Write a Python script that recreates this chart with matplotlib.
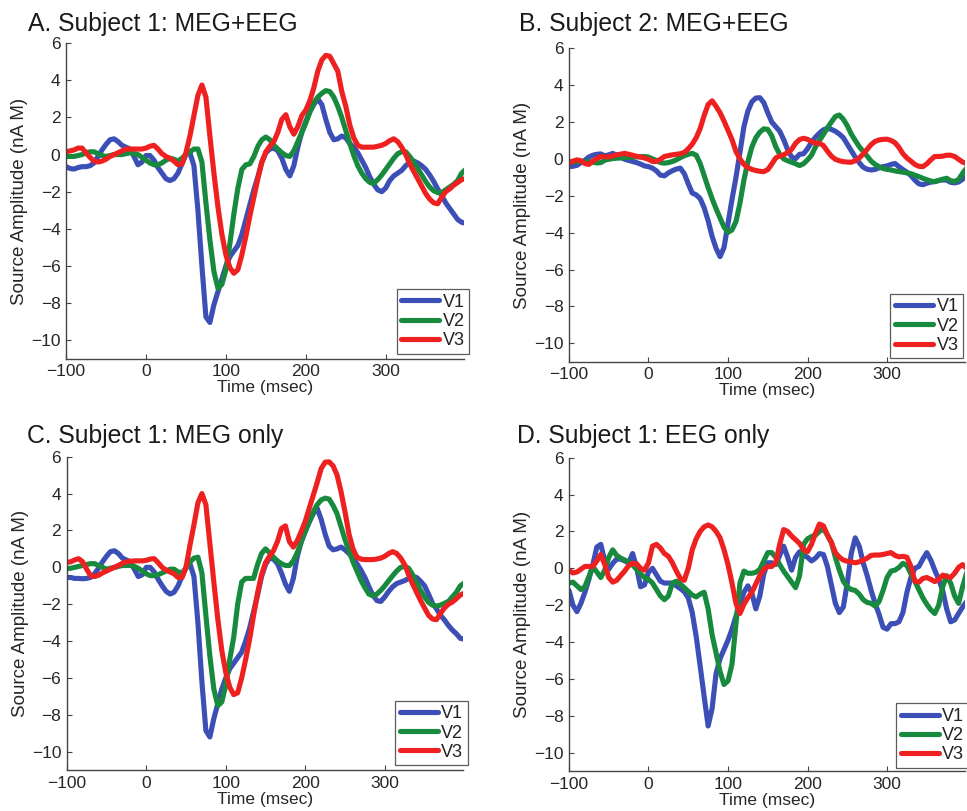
import numpy as np
import matplotlib
matplotlib.use("Agg")
import matplotlib.pyplot as plt

# ---------------- data (nA M), sampled every 5 ms from -100 to 400 ms ----------------
time_ms = np.arange(-100, 401, 5)
series_names = ["V1", "V2", "V3"]
titles = ["A. Subject 1: MEG+EEG", "B. Subject 2: MEG+EEG",
          "C. Subject 1: MEG only", "D. Subject 1: EEG only"]
x_ticks = [-100, 0, 100, 200, 300]
y_ticks = [-10, -8, -6, -4, -2, 0, 2, 4, 6]

a_v1 = [-0.65, -0.75, -0.78, -0.7, -0.65, -0.65, -0.6, -0.45, -0.1, 0.25,
        0.55, 0.8, 0.85, 0.7, 0.5, 0.4, 0.3, -0.1, -0.55, -0.4,
        -0.05, -0.05, -0.3, -0.7, -1.0, -1.3, -1.4, -1.3, -1.0, -0.5,
        0.0, 0.1, -0.6, -3.0, -6.0, -8.75, -9.05, -8.1, -7.4, -6.7,
        -6.0, -5.5, -5.2, -4.9, -4.3, -3.5, -2.7, -1.9, -1.2, -0.4,
        0.1, 0.3, 0.35, 0.2, -0.2, -0.8, -1.15, -0.6, 0.4, 1.2,
        1.8, 2.3, 2.7, 3.0, 2.7, 1.9, 1.2, 0.8, 0.85, 1.0,
        0.9, 0.6, 0.4, 0.1, -0.3, -0.7, -1.2, -1.6, -1.9, -2.0,
        -1.8, -1.4, -1.15, -1.0, -0.85, -0.6, -0.4, -0.35, -0.45, -0.6,
        -0.8, -1.1, -1.45, -1.85, -2.2, -2.6, -2.9, -3.2, -3.5, -3.65,
        -3.7]
a_v2 = [-0.1, -0.1, -0.1, -0.05, 0.0, 0.1, 0.15, 0.15, 0.05, -0.05,
        -0.1, -0.05, 0.0, 0.0, 0.0, 0.05, 0.1, 0.05, 0.0, -0.15,
        -0.3, -0.45, -0.55, -0.55, -0.45, -0.3, -0.2, -0.25, -0.35, -0.2,
        0.0, 0.15, 0.3, 0.3, -0.4, -2.6, -4.6, -6.3, -7.2, -7.0,
        -6.2, -4.8, -3.2, -1.8, -0.8, -0.55, -0.5, -0.1, 0.45, 0.8,
        0.95, 0.8, 0.5, 0.3, 0.1, -0.05, -0.1, 0.2, 0.7, 1.2,
        1.7, 2.3, 2.8, 3.1, 3.3, 3.45, 3.4, 3.1, 2.6, 2.0,
        1.3, 0.6, -0.05, -0.6, -1.0, -1.3, -1.5, -1.55, -1.35, -1.1,
        -0.8, -0.5, -0.2, 0.05, 0.15, 0.15, -0.1, -0.4, -0.75, -1.1,
        -1.45, -1.75, -1.95, -2.05, -2.05, -1.9, -1.75, -1.6, -1.4, -1.0,
        -0.8]
a_v3 = [0.15, 0.2, 0.25, 0.35, 0.35, 0.1, -0.15, -0.35, -0.4, -0.35,
        -0.25, -0.1, 0.0, 0.1, 0.2, 0.3, 0.3, 0.3, 0.3, 0.3,
        0.35, 0.45, 0.5, 0.3, 0.05, -0.1, -0.2, -0.35, -0.55, -0.5,
        0.1, 1.0, 2.1, 3.2, 3.75, 3.1, 1.0, -1.0, -2.8, -4.3,
        -5.4, -6.1, -6.4, -6.2, -5.4, -4.4, -3.3, -2.3, -1.3, -0.4,
        0.15, 0.45, 0.7, 1.2, 1.9, 2.15, 1.5, 1.1, 1.5, 2.1,
        2.4, 2.9, 3.6, 4.5, 5.1, 5.35, 5.3, 4.9, 4.5, 3.4,
        2.6, 1.6, 0.9, 0.5, 0.4, 0.4, 0.4, 0.4, 0.45, 0.5,
        0.6, 0.75, 0.85, 0.7, 0.4, 0.0, -0.5, -0.9, -1.3, -1.7,
        -2.1, -2.4, -2.6, -2.65, -2.3, -2.0, -1.85, -1.65, -1.5, -1.35,
        -1.3]

b_v1 = [-0.42, -0.4, -0.35, -0.2, -0.07, 0.1, 0.2, 0.25, 0.27, 0.17,
        0.22, 0.3, 0.2, 0.1, -0.02, -0.08, -0.14, -0.2, -0.28, -0.38,
        -0.42, -0.5, -0.65, -0.88, -0.92, -0.76, -0.64, -0.55, -0.5, -0.8,
        -1.35, -1.85, -1.95, -2.15, -2.65, -3.35, -4.2, -4.85, -5.3, -4.8,
        -3.5, -2.2, -1.0, 0.35, 1.75, 2.6, 3.1, 3.3, 3.32, 3.05,
        2.5, 2.0, 1.75, 1.5, 1.05, 0.5, 0.1, 0.02, 0.25, 0.28,
        0.55, 0.9, 1.18, 1.4, 1.58, 1.65, 1.6, 1.5, 1.35, 1.15,
        0.8, 0.45, 0.1, -0.2, -0.45, -0.56, -0.6, -0.57, -0.48, -0.42,
        -0.38, -0.3, -0.25, -0.42, -0.58, -0.72, -0.9, -1.15, -1.35, -1.4,
        -1.32, -1.26, -1.23, -1.17, -1.14, -1.15, -1.27, -1.3, -1.25, -1.1,
        -0.95]
b_v2 = [-0.15, -0.15, -0.15, -0.15, -0.15, -0.15, -0.18, -0.22, -0.2, -0.07,
        -0.02, 0.02, 0.04, 0.05, 0.07, 0.09, 0.1, 0.11, 0.12, 0.13,
        0.1, 0.0, -0.08, -0.2, -0.23, -0.2, -0.14, -0.05, 0.07, 0.17,
        0.25, 0.3, 0.2, -0.25, -0.9, -1.55, -2.15, -2.7, -3.2, -3.7,
        -3.98, -3.85, -3.4, -2.4, -1.15, -0.15, 0.65, 1.15, 1.45, 1.63,
        1.6, 1.25, 0.67, 0.25, 0.0, -0.1, -0.18, -0.26, -0.36, -0.26,
        -0.05, 0.2, 0.65, 1.0, 1.33, 1.68, 2.0, 2.3, 2.38, 2.15,
        1.8, 1.35, 1.0, 0.67, 0.4, 0.15, -0.12, -0.3, -0.42, -0.52,
        -0.57, -0.6, -0.65, -0.69, -0.72, -0.76, -0.8, -0.88, -0.96, -1.05,
        -1.13, -1.2, -1.23, -1.17, -1.1, -1.05, -1.18, -1.22, -1.12, -0.78,
        -0.5]
b_v3 = [-0.23, -0.12, -0.05, -0.1, -0.25, -0.3, -0.12, 0.02, 0.13, 0.12,
        0.11, 0.16, 0.22, 0.26, 0.3, 0.25, 0.2, 0.14, 0.1, 0.05,
        -0.02, -0.14, -0.14, -0.02, 0.13, 0.18, 0.22, 0.25, 0.28, 0.35,
        0.55, 0.8, 1.15, 1.65, 2.35, 2.95, 3.15, 2.85, 2.5, 2.05,
        1.55, 1.05, 0.4, 0.0, -0.3, -0.47, -0.57, -0.63, -0.67, -0.69,
        -0.58, -0.28, 0.05, 0.17, 0.22, 0.35, 0.52, 0.85, 1.05, 1.12,
        1.06, 0.95, 0.85, 0.85, 0.72, 0.42, 0.15, -0.02, -0.1, -0.15,
        -0.17, -0.18, -0.1, 0.05, 0.27, 0.52, 0.78, 0.95, 1.03, 1.06,
        1.07, 1.0, 0.88, 0.62, 0.28, 0.05, -0.12, -0.3, -0.4, -0.42,
        -0.27, -0.05, 0.13, 0.13, 0.15, 0.2, 0.2, 0.13, -0.02, -0.17,
        -0.25]

c_v1 = [-0.55, -0.55, -0.6, -0.6, -0.62, -0.6, -0.55, -0.35, -0.05, 0.3,
        0.6, 0.85, 0.9, 0.75, 0.5, 0.4, 0.3, -0.1, -0.5, -0.4,
        0.0, 0.0, -0.25, -0.65, -1.0, -1.3, -1.45, -1.35, -1.0, -0.5,
        0.0, 0.2, -0.5, -3.0, -6.2, -8.85, -9.2, -8.2, -7.4, -6.6,
        -6.0, -5.5, -5.2, -4.9, -4.6, -4.0, -3.3, -2.4, -1.5, -0.5,
        0.15, 0.5, 0.45, 0.2, -0.3, -0.9, -1.3, -0.6, 0.6, 1.4,
        1.95, 2.45, 2.9, 3.2, 2.6, 1.8, 1.15, 0.95, 1.0, 1.1,
        0.95, 0.75, 0.5, 0.2, -0.15, -0.55, -1.05, -1.5, -1.8, -1.85,
        -1.6, -1.3, -1.05, -0.88, -0.8, -0.72, -0.6, -0.5, -0.55, -0.75,
        -1.0, -1.45, -1.95, -2.25, -2.6, -2.85, -3.15, -3.4, -3.6, -3.85,
        -3.9]
c_v2 = [-0.07, -0.05, 0.0, 0.05, 0.1, 0.15, 0.2, 0.2, 0.1, 0.0,
        -0.1, -0.05, 0.0, 0.05, 0.1, 0.1, 0.1, 0.05, -0.05, -0.2,
        -0.35, -0.45, -0.45, -0.4, -0.3, -0.2, -0.1, -0.1, -0.25, -0.3,
        -0.05, 0.3, 0.5, 0.55, -0.3, -2.6, -4.8, -6.6, -7.5, -7.3,
        -6.4, -5.0, -3.8, -2.0, -0.8, -0.6, -0.6, -0.6, 0.15, 0.75,
        1.0, 0.8, 0.55, 0.35, 0.2, 0.1, 0.1, 0.35, 0.8, 1.4,
        1.95, 2.5, 3.0, 3.4, 3.65, 3.75, 3.7, 3.35, 2.9, 2.2,
        1.5, 0.9, 0.3, -0.2, -0.7, -1.1, -1.45, -1.55, -1.45, -1.25,
        -1.0, -0.72, -0.45, -0.2, 0.0, 0.05, -0.05, -0.4, -0.85, -1.25,
        -1.6, -1.9, -2.05, -2.1, -2.05, -1.95, -1.85, -1.6, -1.35, -1.0,
        -0.85]
c_v3 = [0.27, 0.3, 0.4, 0.47, 0.3, -0.1, -0.45, -0.5, -0.43, -0.3,
        -0.2, -0.1, 0.0, 0.1, 0.22, 0.3, 0.33, 0.35, 0.35, 0.35,
        0.38, 0.45, 0.47, 0.25, 0.0, -0.15, -0.25, -0.35, -0.55, -0.55,
        0.0, 1.2, 2.3, 3.5, 4.0, 3.4, 1.3, -0.8, -2.8, -4.5,
        -5.7, -6.5, -6.9, -6.8, -6.0, -5.0, -3.9, -2.6, -1.4, -0.4,
        0.25, 0.6, 0.9, 1.4, 2.1, 2.25, 1.4, 1.1, 1.45, 1.95,
        2.5, 3.2, 3.9, 4.6, 5.35, 5.7, 5.72, 5.5, 5.0, 4.1,
        3.0, 1.8, 1.0, 0.55, 0.45, 0.42, 0.42, 0.42, 0.45, 0.5,
        0.6, 0.75, 0.85, 0.75, 0.5, 0.15, -0.4, -0.9, -1.35, -1.8,
        -2.2, -2.6, -2.8, -2.84, -2.5, -2.2, -2.0, -1.88, -1.7, -1.5,
        -1.4]

d_v1 = [-1.2, -2.0, -2.35, -1.9, -1.3, -0.6, 0.2, 1.15, 1.3, 0.4,
        -0.05, 0.27, 0.5, 0.5, 0.4, 0.3, 0.8, 0.05, -1.0, -0.9,
        -0.2, 0.0, -0.35, -0.7, -0.8, -0.8, -0.8, -0.95, -1.1, -1.27,
        -1.6, -2.4, -3.7, -5.3, -6.95, -8.55, -7.6, -5.7, -4.9, -4.4,
        -3.9, -3.3, -2.6, -2.0, -1.3, -0.95, -1.35, -2.2, -1.5, -0.3,
        0.3, 0.3, 0.2, 0.7, 1.2, 0.6, -0.1, 0.6, 0.9, 0.7,
        0.6, 0.4, 0.55, 0.8, 0.75, 0.1, -0.9, -1.9, -2.4, -2.1,
        -0.8, 0.8, 1.65, 1.2, 0.3, -0.4, -1.2, -1.9, -2.5, -3.2,
        -3.3, -3.0, -3.0, -2.9, -2.4, -1.3, -0.5, 0.0, 0.1, 0.5,
        0.85, 0.45, -0.1, -0.6, -1.2, -2.2, -2.9, -2.8, -2.45, -2.1,
        -1.8]
d_v2 = [-0.8, -0.75, -0.95, -1.15, -1.0, -0.45, 0.1, -0.2, -0.5, -0.1,
        0.6, 1.0, 0.7, 0.55, 0.45, 0.35, 0.18, -0.05, -0.3, -0.5,
        -0.6, -0.8, -1.15, -1.5, -1.7, -1.5, -0.8, -0.7, -0.85, -1.05,
        -1.25, -1.45, -1.55, -1.4, -1.3, -2.2, -3.6, -4.6, -5.6, -6.3,
        -6.1, -5.2, -3.0, -0.8, -0.15, -0.27, -0.27, -0.22, -0.05, 0.4,
        0.85, 0.85, 0.6, 0.2, -0.15, -0.45, -0.75, -1.05, -0.4, 1.3,
        1.6, 1.72, 1.8, 2.0, 2.15, 1.8, 1.4, 0.6, -0.1, -0.7,
        -1.0, -1.15, -1.2, -1.4, -1.7, -1.85, -1.9, -2.05, -1.8, -1.2,
        -0.5, -0.15, -0.1, 0.05, 0.27, 0.15, -0.3, -0.7, -1.15, -1.6,
        -1.95, -2.25, -2.45, -2.0, -1.0, -0.4, -0.8, -1.5, -1.9, -1.0,
        -0.25]
d_v3 = [-0.1, -0.25, -0.2, -0.05, 0.1, 0.1, 0.1, 0.4, 0.75, 0.2,
        -0.5, -0.75, -0.65, -0.4, -0.15, 0.15, 0.27, 0.25, 0.0, -0.1,
        0.3, 1.2, 1.3, 1.1, 0.8, 0.65, 0.3, -0.15, -0.55, -0.65,
        0.0, 1.0, 1.6, 2.0, 2.25, 2.35, 2.25, 2.0, 1.65, 1.0,
        0.2, -0.8, -1.9, -2.45, -1.95, -1.6, -1.3, -0.85, -0.4, -0.05,
        0.1, 0.1, 0.3, 1.3, 2.1, 2.0, 1.75, 1.55, 1.35, 1.0,
        0.9, 1.3, 1.9, 2.4, 2.3, 1.8, 1.4, 0.85, 0.6, 0.45,
        0.38, 0.35, 0.3, 0.35, 0.45, 0.55, 0.7, 0.72, 0.72, 0.75,
        0.8, 0.85, 0.7, 0.62, 0.65, 0.6, 0.1, -0.7, -0.75, -0.55,
        -0.5, -0.6, -0.72, -0.6, -0.37, -0.45, -0.5, -0.27, 0.05, 0.2,
        0.0]

# ---------------- style ----------------
colors = ["#3B4FB6", "#178A3E", "#EE2020"]
plt.rcParams["font.family"] = ["Liberation Sans", "DejaVu Sans"]

fig = plt.figure(figsize=(9.67, 8.11), dpi=100)

panels = [
    (titles[0], [a_v1, a_v2, a_v3], [0.0683, 0.5578, 0.4116, 0.3888], (28, 31), (1.013, 0.016)),
    (titles[1], [b_v1, b_v2, b_v3], [0.5884, 0.5539, 0.4095, 0.3866], (519, 31), (0.995, 0.011)),
    (titles[2], [c_v1, c_v2, c_v3], [0.0690, 0.0503, 0.4095, 0.3866], (27, 443), (1.013, 0.016)),
    (titles[3], [d_v1, d_v2, d_v3], [0.5884, 0.0491, 0.4095, 0.3866], (517, 443), (1.01, 0.011)),
]

W, H = 967.0, 811.0
for title, data, rect, tpos, lanchor in panels:
    ax = fig.add_axes(rect)
    for vals, name, col in zip(data, series_names, colors):
        ax.plot(time_ms, vals, color=col, lw=3.7, label=name,
                solid_joinstyle="round", solid_capstyle="round")
    ax.set_xlim(-100, 398)
    ax.set_ylim(-11, 6)
    ax.set_xticks(x_ticks)
    ax.set_yticks(y_ticks)
    for s in ["top", "right"]:
        ax.spines[s].set_visible(False)
    for s in ["left", "bottom"]:
        ax.spines[s].set_color("#444444")
        ax.spines[s].set_linewidth(1.0)
    ax.tick_params(direction="in", length=3.5, width=0.8, colors="#444444",
                   labelcolor="#262626", labelsize=12.5, pad=4)
    ax.set_xlabel("Time (msec)", fontsize=12.5, color="#262626")
    ax.set_ylabel("Source Amplitude (nA M)", fontsize=13.5, color="#262626")
    ax.xaxis.set_label_coords(0.5, -0.068)
    ax.yaxis.set_label_coords(-0.095, 0.5)
    leg = ax.legend(loc="lower right", bbox_to_anchor=lanchor, borderaxespad=0,
                    fontsize=13, frameon=True, fancybox=False,
                    handlelength=2.1, handletextpad=0.2, labelspacing=0.12,
                    borderpad=0.25)
    leg.get_frame().set_edgecolor("#333333")
    leg.get_frame().set_linewidth(0.9)
    for t in leg.get_texts():
        t.set_color("#222222")
    fig.text(tpos[0] / W, 1 - tpos[1] / H, title, fontsize=17.8,
             ha="left", va="baseline", color="#1a1a1a")

fig.savefig("out.png", dpi=100)
